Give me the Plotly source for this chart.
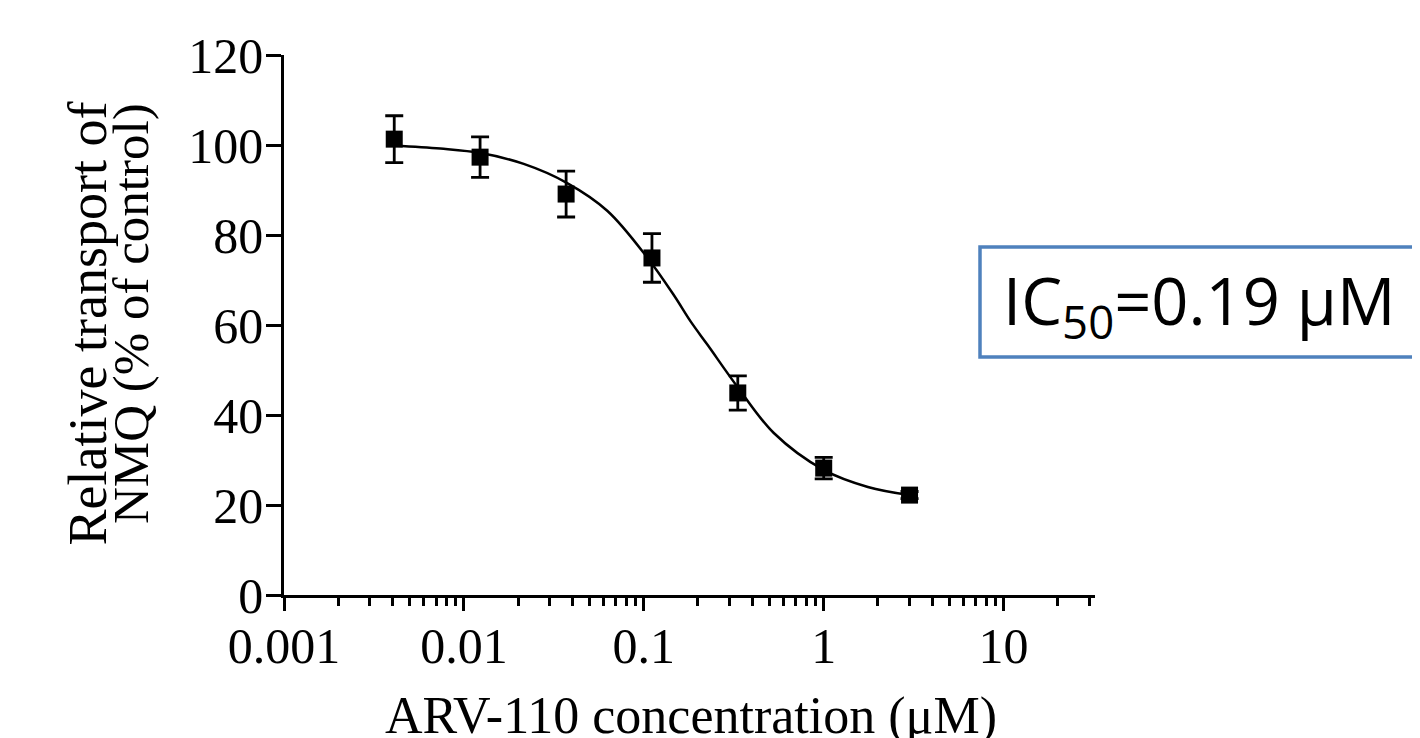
import plotly.graph_objects as go

# Data
conc = [0.0041, 0.0123, 0.037, 0.111, 0.333, 1.0, 3.0]          # ARV-110 (µM)
transport = [101.3, 97.3, 89.1, 74.9, 44.9, 28.2, 22.2]          # % of control
sem = [5.2, 4.5, 5.1, 5.4, 3.8, 2.4, 0.8]

# Fitted curve, points
fit_x = [0.0041, 0.0074, 0.0124, 0.0215, 0.0373, 0.0626, 0.1045,
         0.147, 0.182, 0.226, 0.331, 0.528, 1.0, 1.76, 3.0]
fit_y = [99.9, 99.2, 98.2, 95.8, 91.6, 85.4, 75.0,
         66.6, 60.8, 55.6, 46.3, 36.0, 27.8, 24.0, 22.2]

y_ticks = [0, 20, 40, 60, 80, 100, 120]
x_ticks = [0.001, 0.01, 0.1, 1, 10]
x_tick_labels = ["0.001", "0.01", "0.1", "1", "10"]

# page body has an 8px margin; work in reference-pixel coordinates
OFF = 8
W, H = 1420 - OFF, 738 - OFF
X0_REF, X1_REF, YT_REF, YB_REF = 284, 1095, 55, 595
L, T = X0_REF - OFF, YT_REF - OFF
R = W - (X1_REF - OFF)
B = H - (YB_REF - OFF)
PW, PH = X1_REF - X0_REF, YB_REF - YT_REF


def px(xp):
    return (xp - X0_REF) / PW


def py(yp):
    return (YB_REF - yp) / PH


serif = "Liberation Serif, Times New Roman, serif"

fig = go.Figure()
fig.add_trace(go.Scatter(
    x=fit_x, y=fit_y, mode="lines",
    line=dict(color="black", width=2.5, shape="spline", smoothing=1.0),
    hoverinfo="skip", showlegend=False,
))
fig.add_trace(go.Scatter(
    x=conc, y=transport, mode="markers",
    marker=dict(symbol="square", size=17, color="black"),
    error_y=dict(type="data", array=sem, visible=True, color="black", thickness=2.8, width=9),
    showlegend=False,
))

fig.update_layout(
    width=W, height=H,
    margin=dict(l=L, r=R, t=T, b=B, pad=0),
    paper_bgcolor="white", plot_bgcolor="white",
    font=dict(family=serif, size=50, color="black"),
    xaxis=dict(
        type="log", range=[-3, 1.508],
        tickmode="array", tickvals=x_ticks, ticktext=x_tick_labels,
        ticks="outside", ticklen=13, tickwidth=2.5, tickcolor="black",
        showline=True, linewidth=2.5, linecolor="black",
        showgrid=False, zeroline=False,
        tickfont=dict(family=serif, size=50),
        ticklabelstandoff=-8,
        minor=dict(ticks="outside", ticklen=8, tickwidth=2.5, tickcolor="black",
                   dtick="D1", showgrid=False),
    ),
    yaxis=dict(
        range=[0, 120],
        tickmode="array", tickvals=y_ticks,
        ticks="outside", ticklen=15, tickwidth=2.5, tickcolor="black",
        showline=True, linewidth=2.5, linecolor="black",
        showgrid=False, zeroline=False,
        tickfont=dict(family=serif, size=50),
        ticklabelstandoff=-7,
    ),
)

# Axis titles
fig.add_annotation(
    text="ARV-110 concentration (μM)", xref="paper", yref="paper",
    x=px(691), y=py(716), xanchor="center", yanchor="middle", showarrow=False,
    font=dict(family=serif, size=52, color="black"),
)
fig.add_annotation(
    text="Relative transport of", xref="paper", yref="paper",
    x=px(87), y=py(323.5), xanchor="center", yanchor="middle", showarrow=False,
    textangle=-90, font=dict(family=serif, size=54, color="black"),
)
fig.add_annotation(
    text="NMQ (% of control)", xref="paper", yref="paper",
    x=px(131), y=py(314), xanchor="center", yanchor="middle", showarrow=False,
    textangle=-90, font=dict(family=serif, size=51, color="black"),
)

# IC50 box (open on the right: it runs past the picture edge)
bx0, bx1, by0, by1 = px(980), px(1450), py(357), py(247)
fig.add_shape(
    type="path", xref="paper", yref="paper",
    path=f"M {bx1},{by1} L {bx0},{by1} L {bx0},{by0} L {bx1},{by0}",
    line=dict(color="#4F81BD", width=3.5), fillcolor="rgba(0,0,0,0)",
)
fig.add_annotation(
    text="IC<sub>50</sub>=0.19 μM", xref="paper", yref="paper",
    x=px(1001), y=py(304), xanchor="left", yanchor="middle", showarrow=False,
    font=dict(family="Open Sans, Liberation Sans, sans-serif", size=65, color="black"),
)

fig.write_html("out.html", config={"displayModeBar": False})
